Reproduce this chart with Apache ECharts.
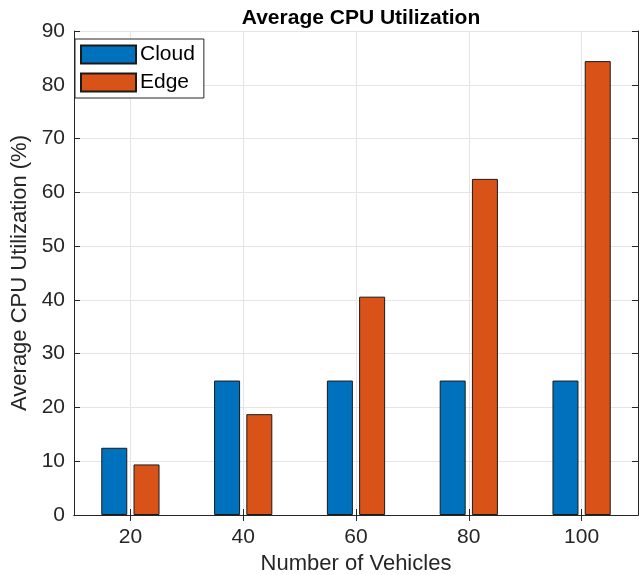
<!DOCTYPE html>
<html>
<head>
<meta charset="utf-8">
<script src="https://cdn.jsdelivr.net/npm/echarts@6/dist/echarts.min.js"></script>
<style>
  html, body { margin: 0; padding: 0; background: #fff; }
  #chart { width: 644px; height: 575px; }
</style>
</head>
<body>
<div id="chart"></div>
<script>
// data
var vehicles = ['20', '40', '60', '80', '100'];
var cloudUtil = [12.5, 25, 25, 25, 25];
var edgeUtil = [9.4, 18.75, 40.6, 62.5, 84.4];
var yTicks = { min: 0, max: 90, interval: 10 };

var font = 'Liberation Sans, Arial, sans-serif';
var axisColor = '#262626';
var gridColor = '#e5e5e5';

var chart = echarts.init(document.getElementById('chart'));

var option = {
  animation: false,
  backgroundColor: '#fff',
  textStyle: { fontFamily: font },
  title: {
    text: 'Average CPU Utilization',
    left: 356,
    textAlign: 'center',
    top: 3,
    textStyle: { fontSize: 21, fontWeight: 'bold', color: '#000', fontFamily: font }
  },
  legend: {
    data: ['Cloud', 'Edge'],
    orient: 'vertical',
    left: 75,
    top: 39,
    itemWidth: 55,
    itemHeight: 18,
    itemGap: 7,
    padding: [5, 9, 5, 5],
    borderColor: '#262626',
    borderWidth: 1,
    backgroundColor: '#fff',
    textStyle: { fontSize: 21, color: '#000', fontFamily: font, padding: [0, 0, 0, -1] },
    icon: 'rect'
  },
  grid: { left: 74, right: 6, top: 31, bottom: 60, outerBoundsMode: 'none' },
  xAxis: [{
    type: 'category',
    data: vehicles,
    name: 'Number of Vehicles',
    nameLocation: 'middle',
    nameGap: 37,
    nameTextStyle: { fontSize: 22, color: '#262626', fontFamily: font },
    axisLine: { show: true, lineStyle: { color: axisColor, width: 1 } },
    axisTick: { show: true, inside: true, alignWithLabel: true, length: 6, lineStyle: { color: axisColor } },
    axisLabel: { fontSize: 21, color: '#262626', margin: 12, fontFamily: font },
    splitLine: { show: true, alignWithLabel: true, lineStyle: { color: gridColor, width: 1 } }
  }, {
    type: 'category',
    data: vehicles,
    position: 'top',
    axisLine: { show: true, lineStyle: { color: axisColor, width: 1 } },
    axisTick: { show: true, inside: true, alignWithLabel: true, length: 6, lineStyle: { color: axisColor } },
    axisLabel: { show: false },
    splitLine: { show: false }
  }],
  yAxis: [{
    type: 'value',
    min: yTicks.min,
    max: yTicks.max,
    interval: yTicks.interval,
    name: 'Average CPU Utilization (%)',
    nameLocation: 'middle',
    nameGap: 36,
    nameTextStyle: { fontSize: 22, color: '#262626', fontFamily: font },
    axisLine: { show: true, lineStyle: { color: axisColor, width: 1 } },
    axisTick: { show: true, inside: true, length: 6, lineStyle: { color: axisColor } },
    axisLabel: { fontSize: 21, color: '#262626', margin: 9, fontFamily: font },
    splitLine: { show: true, lineStyle: { color: gridColor, width: 1 } }
  }, {
    type: 'value',
    min: yTicks.min,
    max: yTicks.max,
    interval: yTicks.interval,
    position: 'right',
    axisLine: { show: true, lineStyle: { color: axisColor, width: 1 } },
    axisTick: { show: true, inside: true, length: 6, lineStyle: { color: axisColor } },
    axisLabel: { show: false },
    splitLine: { show: false }
  }],
  series: [{
    name: 'Cloud',
    type: 'bar',
    data: cloudUtil,
    barWidth: 26,
    barGap: '24%',
    itemStyle: { color: '#0072BD', borderColor: '#1a1a1a', borderWidth: 1 }
  }, {
    name: 'Edge',
    type: 'bar',
    data: edgeUtil,
    barWidth: 26,
    barGap: '24%',
    itemStyle: { color: '#D95319', borderColor: '#1a1a1a', borderWidth: 1 }
  }]
};

chart.setOption(option);
</script>
</body>
</html>
